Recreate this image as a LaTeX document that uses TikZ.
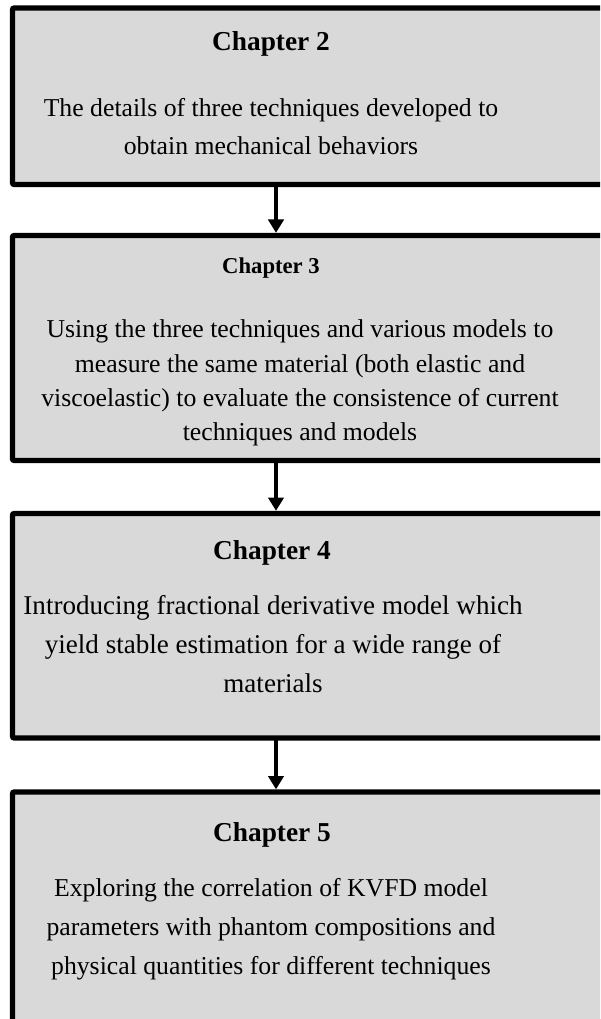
\documentclass[tikz,border=0pt]{standalone}
\usepackage{fontspec}
\setmainfont{Liberation Serif}
\usetikzlibrary{arrows.meta}
\definecolor{boxgray}{HTML}{D9D9D9}
\begin{document}
\begin{tikzpicture}[x=0.75pt,y=-0.75pt,
  box/.style={draw=black, fill=boxgray, line width=4.1pt, rounded corners=1.5pt, rectangle, outer sep=0pt, inner sep=0pt},
  head/.style={anchor=base, inner sep=0pt, font=\bfseries\fontsize{20.5}{24}\selectfont},
  headsmall/.style={anchor=base, inner sep=0pt, font=\bfseries\fontsize{17}{20}\selectfont},
  body/.style={anchor=base, inner sep=0pt, font=\fontsize{19.3}{23}\selectfont},
  bodylarge/.style={anchor=base, inner sep=0pt, font=\fontsize{20.3}{24}\selectfont},
  arr/.style={line width=3.2pt, shorten >=2pt, -{Triangle[width=11.5pt,length=10pt]}}]
\useasboundingbox (0,0) rectangle (600,1019);
\clip (0,0) rectangle (600,1019);
% boxes
\node[box, minimum width=627.5*0.75pt, minimum height=176.5*0.75pt] (b2) at (326.25,96.25) {};
\node[box, minimum width=627.5*0.75pt, minimum height=225*0.75pt] (b3) at (326.25,348) {};
\node[box, minimum width=627.5*0.75pt, minimum height=224.5*0.75pt] (b4) at (326.25,625.75) {};
\node[box, minimum width=627.5*0.75pt, minimum height=268*0.75pt] (b5) at (326.25,926) {};
% arrows
\coordinate (ax) at (276,0);
\draw[arr] (b2.south -| ax) -- (b3.north -| ax);
\draw[arr] (b3.south -| ax) -- (b4.north -| ax);
\draw[arr] (b4.south -| ax) -- (b5.north -| ax);
% texts box 1
\node[head] (h2) at (271,51) {Chapter 2};
\node[body] (t2a) at (271,117) {The details of three techniques developed to};
\node[body] (t2b) at (271,155) {obtain mechanical behaviors};
% box 2
\node[headsmall] (h3) at (271,274) {Chapter 3};
\node[body] (t3a) at (300,338) {Using the three techniques and various models to};
\node[body] (t3b) at (300,372) {measure the same material (both elastic and};
\node[body] (t3c) at (300,406) {viscoelastic) to evaluate the consistence of current};
\node[body] (t3d) at (300,440) {techniques and models};
% box 3
\node[head] (h4) at (272,559) {Chapter 4};
\node[bodylarge] (t4a) at (273,614) {Introducing fractional derivative model which};
\node[bodylarge] (t4b) at (273,653) {yield stable estimation for a wide range of};
\node[bodylarge] (t4c) at (273,692) {materials};
% box 4
\node[head] (h5) at (272,841) {Chapter 5};
\node[body] (t5a) at (271,896) {Exploring the correlation of KVFD model};
\node[body] (t5b) at (271,935) {parameters with phantom compositions and};
\node[body] (t5c) at (271,974) {physical quantities for different techniques};
\end{tikzpicture}
\end{document}
